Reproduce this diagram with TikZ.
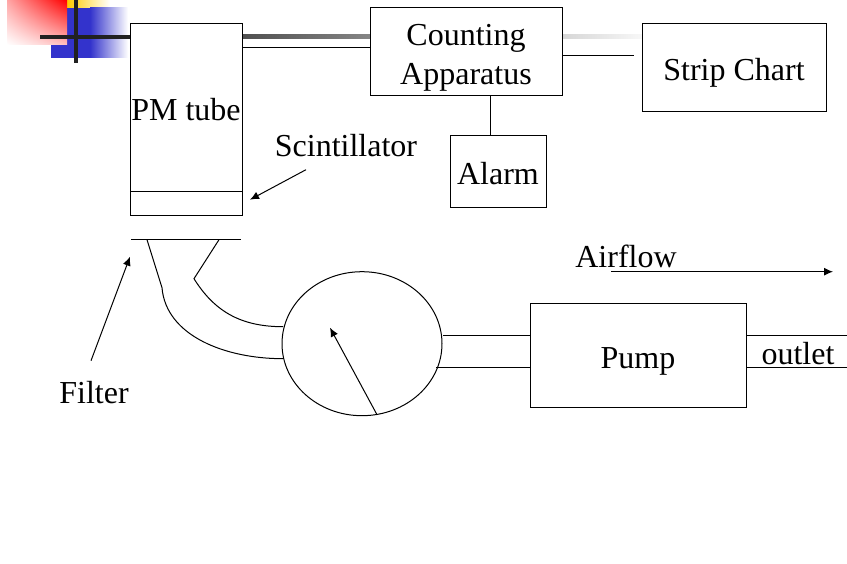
\documentclass[tikz,border=0pt]{standalone}
\usepackage{fontspec}
\setmainfont{Liberation Serif}
\usetikzlibrary{arrows.meta}
\usetikzlibrary{shadings}
\usetikzlibrary{shapes.geometric}
\definecolor{slideyellow}{RGB}{255,204,0}
\definecolor{slideblue}{RGB}{51,51,204}
\tikzset{
	box/.style={draw=black, fill=white, line width=1pt, inner sep=0pt, align=center, text height=25pt, text depth=0pt, minimum width=#1},
	box/.default=100pt,
	tag/.style={inner sep=0pt, anchor=base}
}

\begin{document}
\begin{tikzpicture}[x=1pt, y=-1pt, line width=1pt, >={Latex[length=9pt, width=8pt]}, every node/.style={font=\fontsize{32}{39}\selectfont}]

	\useasboundingbox (0, -0.7) rectangle (847, 563.3);

	% slide decoration
	\shade[left color=slideyellow, right color=white] (67, -0.7) rectangle (110, 7);
	\fill[slideblue] (51, 7) rectangle (90, 57);
	\shade[left color=slideblue, right color=white] (90, 7) rectangle (128, 57);
	\shade[lower left=white, upper right=red, upper left=red!35!white, lower right=red!25!white] (7, -0.7) rectangle (67, 44);
	\fill[black!87] (40, 34) rectangle (130, 38);
	\shade[left color=black!87, right color=white] (130, 34) rectangle (660, 38);
	\fill[black!87] (74, -0.7) rectangle (78, 62);

	% boxes
	\node[box=112pt, minimum height=192pt] (tube) at (186, 119) {};
	\node[box=192pt, minimum height=88pt, text height=66pt] (counter) at (466, 51) {Counting\\Apparatus};
	\node[box=184pt, minimum height=88pt] (chart) at (734, 67) {Strip Chart};
	\node[box=96pt, minimum height=72pt] (alarm) at (498, 171) {Alarm};
	\node[box=216pt, minimum height=104pt] (pump) at (638, 355) {Pump};
	\node[draw=black, ellipse, inner sep=0pt, minimum width=160pt, minimum height=144pt] (meter) at (362, 343) {};

	% labels
	\node[tag] (tubelabel) at (186, 120) {PM tube};
	\node[tag] (scintlabel) at (346, 156) {Scintillator};
	\node[tag] (filterlabel) at (94, 403) {Filter};
	\node[tag] (airlabel) at (626, 267) {Airf{}low};
	\node[tag] (outletlabel) at (798, 364) {outlet};

	% signal lines
	\coordinate (chartend) at (634, 55);
	\coordinate (alarmtop) at (490, 135);
	\draw (tube.east |- 0, 47) -- (counter.west |- 0, 47);
	\draw (counter.east |- chartend) -- (chartend);
	\draw (alarmtop |- counter.south) -- (alarmtop);

	% scintillator
	\coordinate (scintleft) at (130, 191);
	\coordinate (scintright) at (242, 191);
	\coordinate (scintfrom) at (306, 169);
	\coordinate (scintto) at (250, 199);
	\draw (scintleft) -- (scintright);
	\draw[->] (scintfrom) -- (scintto);

	% filter and hose
	\coordinate (filterleft) at (131, 239);
	\coordinate (filterright) at (241, 239);
	\coordinate (filterfrom) at (91, 360);
	\coordinate (filterto) at (130, 256);
	\draw (filterleft) -- (filterright);
	\draw[->] (filterfrom) -- (filterto);
	\draw (147, 239) -- (162, 287) .. controls (166, 335) and (225, 358) .. (283, 358);
	\draw (219, 239) -- (194, 278) .. controls (214, 310) and (240, 326) .. (283, 326);

	% needle
	\coordinate (needlefrom) at (377, 414);
	\coordinate (needleto) at (330, 327);
	\draw[->] (needlefrom) -- (needleto);

	% pump lines
	\coordinate (outupper) at (847, 335);
	\coordinate (outlower) at (847, 367);
	\coordinate (inupper) at (443, 335);
	\coordinate (inlower) at (436, 367);
	\draw (inupper) -- (pump.west |- inupper);
	\draw (inlower) -- (pump.west |- inlower);
	\draw (pump.east |- outupper) -- (outupper);
	\draw (pump.east |- outlower) -- (outlower);

	% airflow
	\coordinate (airfrom) at (611, 271);
	\coordinate (airto) at (833, 271);
	\draw[->] (airfrom) -- (airto);

\end{tikzpicture}
\end{document}
